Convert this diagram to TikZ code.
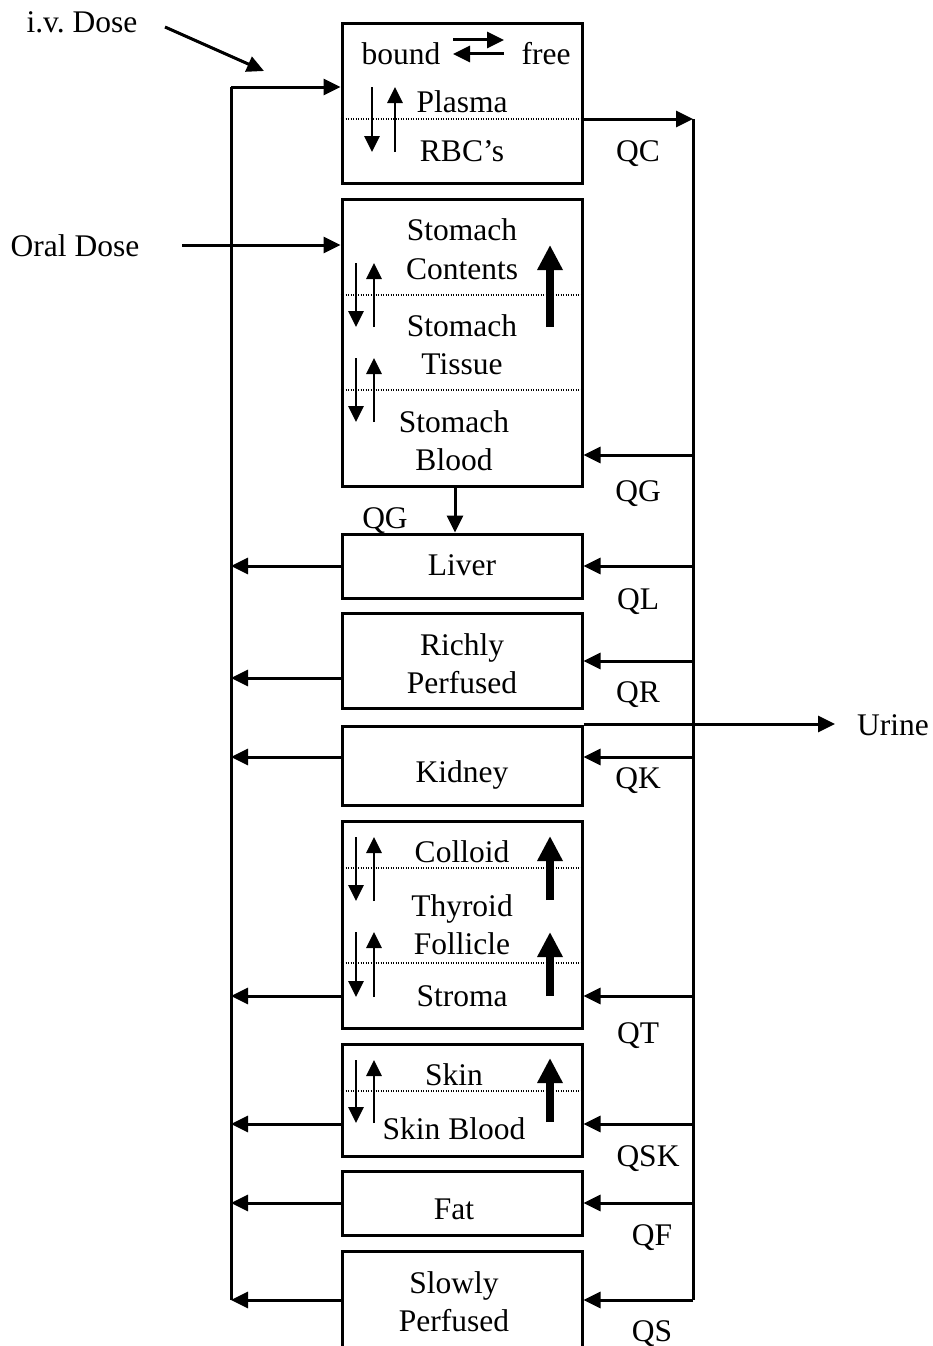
\documentclass[tikz,border=0pt]{standalone}
\usepackage{fontspec}
\setmainfont{Liberation Serif}
\usetikzlibrary{arrows.meta}
\begin{document}
\begin{tikzpicture}[x=1pt,y=-1pt,
  box/.style={draw,line width=3pt,minimum width=240pt,inner sep=0pt},
  lbl/.style={inner sep=0pt,anchor=base,font=\fontsize{31.5}{38}\selectfont},
  wire/.style={line width=3pt},
  arr/.style={line width=3pt,-{Triangle[length=17pt,width=16pt]}},
  sarr/.style={line width=2.8pt,-{Triangle[length=16pt,width=15pt]}},
  barr/.style={line width=7.5pt,-{Triangle[length=25pt,width=24pt]}},
  sep/.style={line width=1.4pt,dash pattern=on 1.4pt off 1.1pt}]
\useasboundingbox (0,0) rectangle (933,1346);

% boxes
\node[box,minimum height=159pt] (plasma) at (462,103.5) {};
\node[box,minimum height=287pt] (stomach) at (462,342.5) {};
\node[box,minimum height=64pt] (liver) at (462,566) {};
\node[box,minimum height=95pt] (richly) at (462,660.5) {};
\node[box,minimum height=79pt] (kidney) at (462,765.5) {};
\node[box,minimum height=207pt] (thyroid) at (462,924.5) {};
\node[box,minimum height=112pt] (skin) at (462,1100) {};
\node[box,minimum height=64pt] (fat) at (462,1203) {};
\node[box,minimum height=109pt] (slowly) at (462,1305.5) {};

% dotted separators
\coordinate (d1) at (0,119);
\coordinate (d2) at (0,295);
\coordinate (d3) at (0,390);
\coordinate (d4) at (0,868);
\coordinate (d5) at (0,963);
\coordinate (d6) at (0,1091);
\draw[sep] (d1 -| plasma.west) -- (d1 -| plasma.east);
\draw[sep] (d2 -| stomach.west) -- (d2 -| stomach.east);
\draw[sep] (d3 -| stomach.west) -- (d3 -| stomach.east);
\draw[sep] (d4 -| thyroid.west) -- (d4 -| thyroid.east);
\draw[sep] (d5 -| thyroid.west) -- (d5 -| thyroid.east);
\draw[sep] (d6 -| skin.west) -- (d6 -| skin.east);

% labels
\node[lbl] (ivdose) at (82,33) {i.v.\ Dose};
\node[lbl] (oraldose) at (75,256) {Oral Dose};
\node[lbl] (bound) at (401,64) {bound};
\node[lbl] (free) at (546,64) {free};
\node[lbl] (tplasma) at (462,112) {Plasma};
\node[lbl] (trbc) at (462,161) {RBC’s};
\node[lbl] (qc) at (638,161) {QC};
\node[lbl] (s1) at (462,240) {Stomach};
\node[lbl] (s2) at (462,279) {Contents};
\node[lbl] (s3) at (462,336) {Stomach};
\node[lbl] (s4) at (462,374) {Tissue};
\node[lbl] (s5) at (454,432) {Stomach};
\node[lbl] (s6) at (454,470) {Blood};
\node[lbl] (qg1) at (638,501) {QG};
\node[lbl] (qg2) at (385,528) {QG};
\node[lbl] (tliver) at (462,575) {Liver};
\node[lbl] (ql) at (638,609) {QL};
\node[lbl] (r1) at (462,655) {Richly};
\node[lbl] (r2) at (462,693) {Perfused};
\node[lbl] (qr) at (638,702) {QR};
\node[lbl] (urine) at (893,735) {Urine};
\node[lbl] (tkidney) at (462,782) {Kidney};
\node[lbl] (qk) at (638,788) {QK};
\node[lbl] (t1) at (462,862) {Colloid};
\node[lbl] (t2) at (462,916) {Thyroid};
\node[lbl] (t3) at (462,954) {Follicle};
\node[lbl] (t4) at (462,1006) {Stroma};
\node[lbl] (qt) at (638,1043) {QT};
\node[lbl] (k1) at (454,1085) {Skin};
\node[lbl] (k2) at (454,1139) {Skin Blood};
\node[lbl] (qsk) at (648,1166) {QSK};
\node[lbl] (tfat) at (454,1219) {Fat};
\node[lbl] (qf) at (652,1245) {QF};
\node[lbl] (w1) at (454,1293) {Slowly};
\node[lbl] (w2) at (454,1331) {Perfused};
\node[lbl] (qs) at (652,1341) {QS};

% buses
\coordinate (Ltop) at (231,87);
\coordinate (Lbot) at (231,1300);
\coordinate (Rtop) at (693,119);
\coordinate (Rbot) at (693,1300);
\draw[wire] (Lbot) -- (Ltop);
\draw[arr] (Ltop) -- (Ltop -| plasma.west);
\draw[arr] (Rtop -| plasma.east) -- (Rtop);
\draw[wire] (Rtop) -- (Rbot);

% doses
\coordinate (iva) at (165,27);
\coordinate (ivb) at (264,71);
\draw[arr] (iva) -- (ivb);
\coordinate (ora) at (182,245);
\draw[arr] (ora) -- (ora -| stomach.west);

% arterial inputs (right bus -> organ)
\foreach \o/\y in {stomach/455,liver/566,richly/661,kidney/757,thyroid/996,skin/1124,fat/1203,slowly/1300}{
  \coordinate (ri\o) at (693,\y);
  \draw[arr] (ri\o) -- (ri\o -| \o.east);
}
% venous outputs (organ -> left bus)
\foreach \o/\y in {liver/566,richly/678,kidney/757,thyroid/996,skin/1124,fat/1203,slowly/1300}{
  \coordinate (lo\o) at (231,\y);
  \draw[arr] (lo\o -| \o.west) -- (lo\o);
}

% stomach -> liver
\coordinate (sg) at (455,0);
\draw[arr] (sg |- stomach.south) -- (sg |- liver.north);

% urine
\coordinate (ur) at (835,724);
\draw[arr] (ur -| kidney.east) -- (ur);

% bound <-> free
\draw[arr] (453,40) -- (504,40);
\draw[arr] (504,54) -- (453,54);

% small exchange arrows
\draw[sarr] (372,87) -- (372,152);
\draw[sarr] (395,152) -- (395,87);
\foreach \a/\b in {263/327,358/422,837/901,932/997,1060/1123}{
  \draw[sarr] (356,\a) -- (356,\b);
  \draw[sarr] (374,\b) -- (374,\a);
}

% big transport arrows
\draw[barr] (550,327) -- (550,245);
\draw[barr] (550,900) -- (550,836);
\draw[barr] (550,996) -- (550,932);
\draw[barr] (550,1122) -- (550,1058);
\end{tikzpicture}
\end{document}
